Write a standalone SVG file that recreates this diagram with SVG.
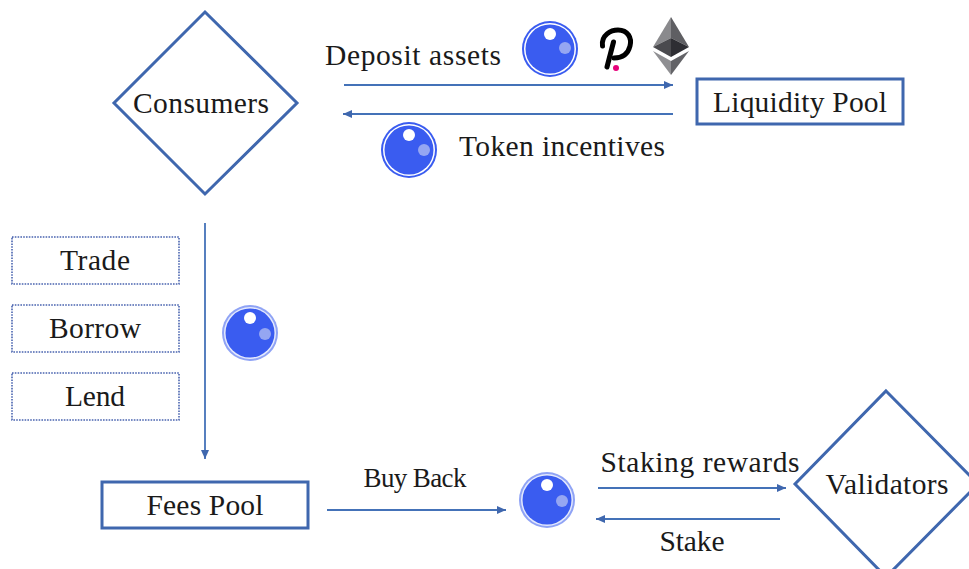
<svg xmlns="http://www.w3.org/2000/svg" width="969" height="569" viewBox="0 0 969 569">
<style>
text{font-family:"Liberation Serif","DejaVu Serif",serif;fill:#1a1a1a;text-anchor:middle}
.l{font-size:29.500px}
.m{font-size:27px}
.node{fill:#fff;stroke:#3f67ae;stroke-width:3}
.dot{fill:#fff;stroke:#4a64b0;stroke-width:1.6;stroke-dasharray:1.6 1.2}
.c{fill:none;stroke:#4472b8;stroke-width:1.8}
</style>
<defs>
<marker id="a" markerUnits="userSpaceOnUse" markerWidth="10" markerHeight="10" refX="9" refY="5" orient="auto"><path d="M0 1L9 5L0 9Z" fill="#3f67ae"/></marker>
<g id="coin">
<circle r="28" fill="#8fa3f5"/><circle r="26" fill="#e4e9fd"/><circle r="24.500" fill="#3a5cf0"/>
<circle cx="0" cy="-15" r="6" fill="#fff"/><circle cx="15" cy="1" r="6" fill="#95a6f2"/>
</g>
</defs>
<rect width="969" height="569" fill="#fff"/>
<g id="connectors">
<path class="c" d="M344 85H673" marker-end="url(#a)"/>
<path class="c" d="M673 114H343" marker-end="url(#a)"/>
<path class="c" d="M205 223V459" marker-end="url(#a)"/>
<path class="c" d="M327 510H506" marker-end="url(#a)"/>
<path class="c" d="M598 488H786" marker-end="url(#a)"/>
<path class="c" d="M780 519H596" marker-end="url(#a)"/>
</g>
<g id="consumers"><path class="node" d="M205 12L297 103L205 194L114 103Z"/><text class="l" x="201" y="113" textLength="136" lengthAdjust="spacing">Consumers</text></g>
<g id="liquidity-pool"><rect class="node" x="697" y="79" width="206" height="45"/><text class="l" x="800" y="112" textLength="174" lengthAdjust="spacing">Liquidity Pool</text></g>
<g id="trade"><rect class="dot" x="12" y="237" width="167" height="47"/><text class="l" x="95" y="270" textLength="70" lengthAdjust="spacing">Trade</text></g>
<g id="borrow"><rect class="dot" x="12" y="305" width="167" height="47"/><text class="l" x="95" y="338" textLength="92" lengthAdjust="spacing">Borrow</text></g>
<g id="lend"><rect class="dot" x="12" y="373" width="167" height="47"/><text class="l" x="95" y="406" textLength="60" lengthAdjust="spacing">Lend</text></g>
<g id="fees-pool"><rect class="node" x="102" y="482" width="206" height="46"/><text class="l" x="205" y="515" textLength="117" lengthAdjust="spacing">Fees Pool</text></g>
<g id="validators"><path class="node" d="M886 391L978 484L886 577L795 484Z"/><text class="l" x="887" y="494" textLength="123" lengthAdjust="spacing">Validators</text></g>
<g id="coin-deposit"><circle cx="550" cy="49" r="28" fill="#3a5cf0"/><circle cx="550" cy="49" r="26" fill="#fff"/><circle cx="550" cy="49" r="24.500" fill="#3a5cf0"/><circle cx="550" cy="34" r="6" fill="#fff"/><circle cx="565" cy="48" r="6" fill="#95a6f2"/></g>
<g id="polkadot">
<path d="M607 67L613.500 42" fill="none" stroke="#000" stroke-width="5" stroke-linecap="round"/>
<path d="M602.500 46C601 35 611 30 618 30C628 30 632 38 630 46C628 54 622 58 614 58" fill="none" stroke="#000" stroke-width="5" stroke-linecap="round"/>
<circle cx="616" cy="68" r="3" fill="#e6007a"/>
</g>
<g id="ethereum">
<path d="M671 17L653 47L671 38Z" fill="#8a8a8d"/>
<path d="M671 17L689 47L671 38Z" fill="#5f5f63"/>
<path d="M671 38L653 47L671 57Z" fill="#4a4a4e"/>
<path d="M671 38L689 47L671 57Z" fill="#2e2e33"/>
<path d="M653 51L671 75V61Z" fill="#8f8f92"/>
<path d="M689 51L671 75V61Z" fill="#636367"/>
</g>
<g id="coin-incentive"><circle cx="409" cy="150" r="28" fill="#3a5cf0"/><circle cx="409" cy="150" r="26" fill="#fff"/><circle cx="409" cy="150" r="24.500" fill="#3a5cf0"/><circle cx="409" cy="135" r="6" fill="#fff"/><circle cx="424" cy="150" r="6" fill="#95a6f2"/></g>
<g id="coin-fees"><use href="#coin" x="250" y="333"/></g>
<g id="coin-buyback"><use href="#coin" x="547" y="500"/></g>
<text class="l" x="413" y="65" textLength="176" lengthAdjust="spacing">Deposit assets</text>
<text class="l" x="562" y="156" textLength="206" lengthAdjust="spacing">Token incentives</text>
<text class="m" x="415" y="487" textLength="103" lengthAdjust="spacing">Buy Back</text>
<text class="l" x="700" y="472" textLength="199" lengthAdjust="spacing">Staking rewards</text>
<text class="l" x="692" y="551" textLength="65" lengthAdjust="spacing">Stake</text>
</svg>
